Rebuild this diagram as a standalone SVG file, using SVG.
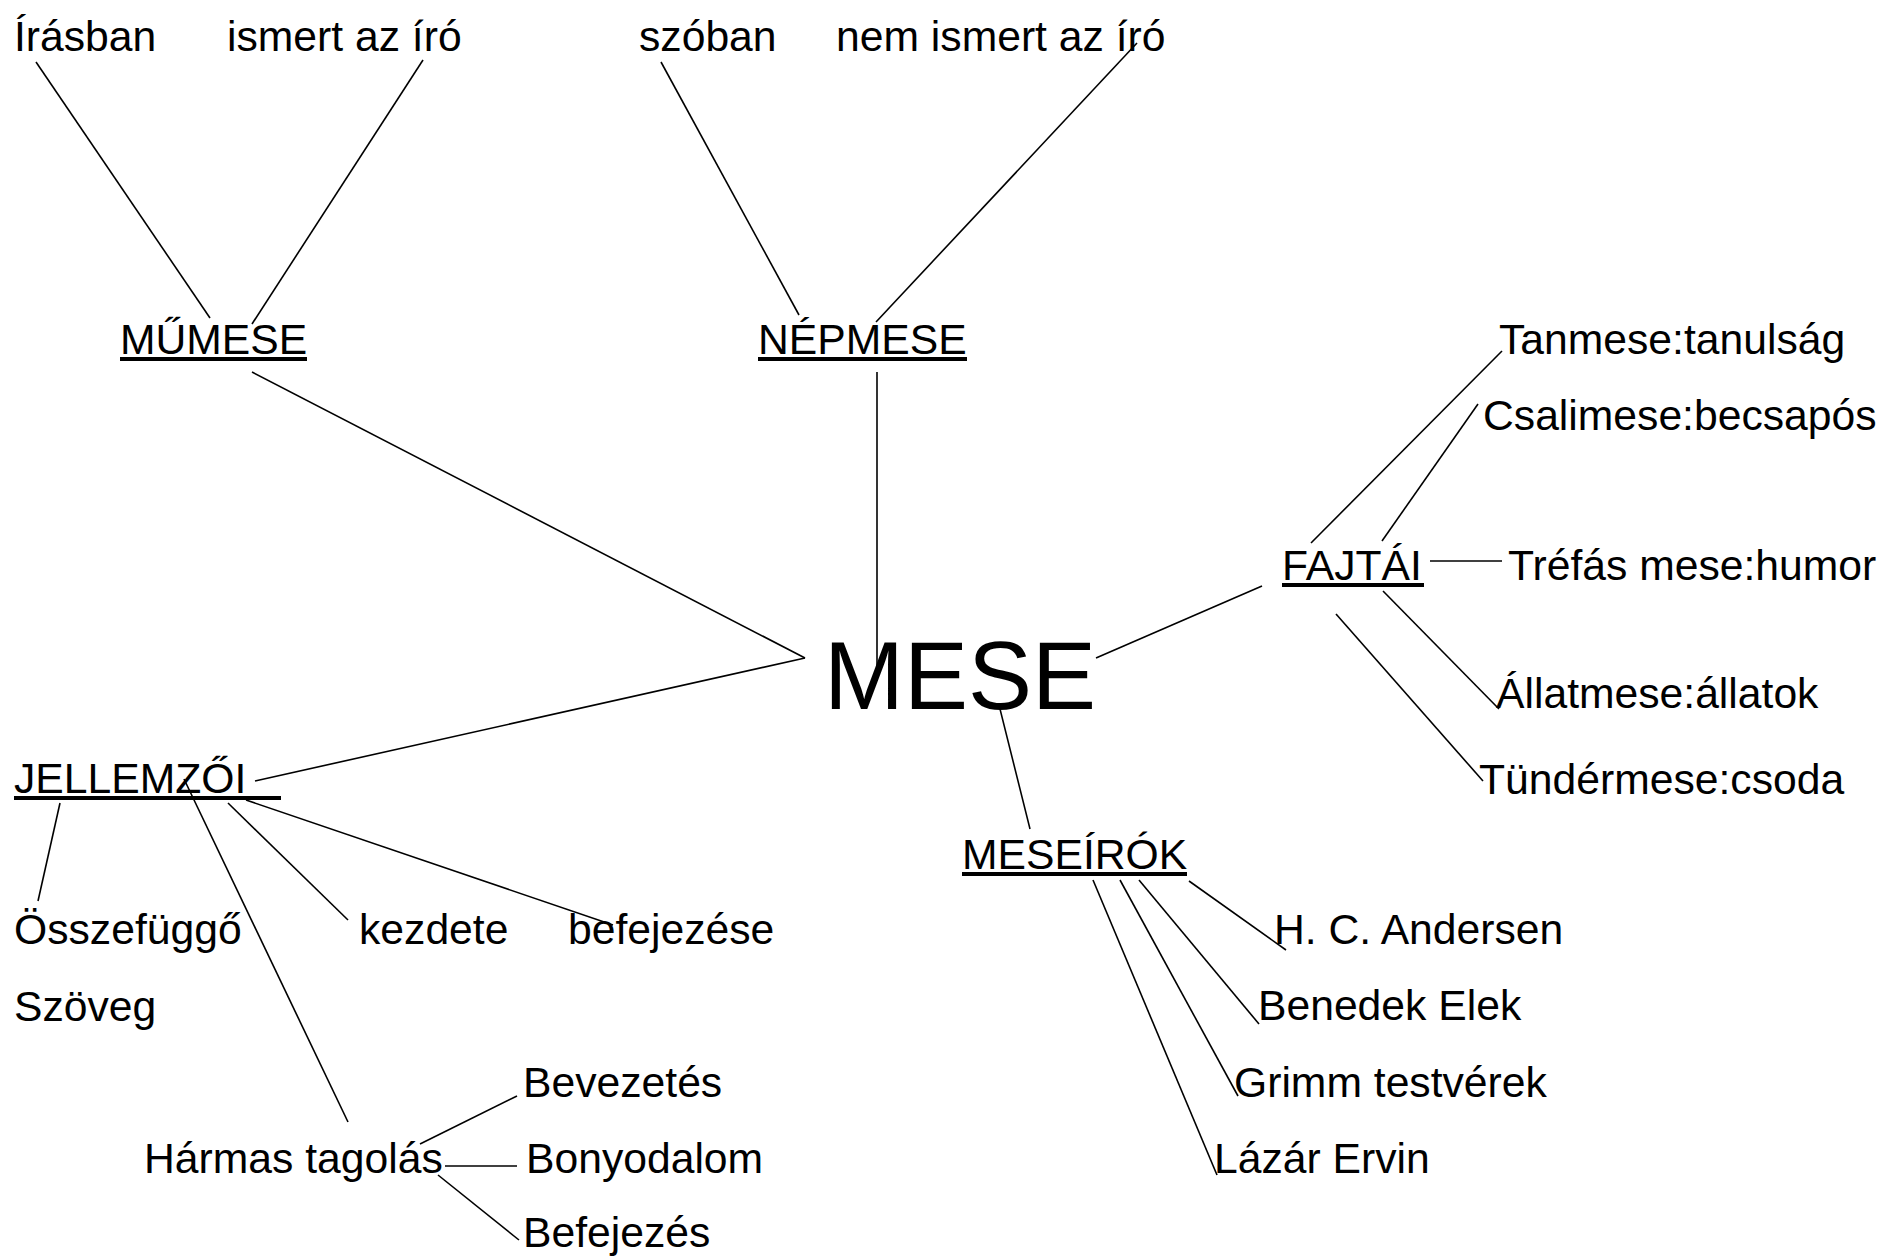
<svg xmlns="http://www.w3.org/2000/svg" width="1884" height="1257" viewBox="0 0 1884 1257">
<style>
text{font-family:"Liberation Sans",Arial,sans-serif;font-size:42.67px;fill:#000}
.big{font-size:96px}
.ul{fill:#000}
#connectors line{stroke:#000;stroke-width:1.6}
</style>
<rect width="1884" height="1257" fill="#fff"/>
<g id="connectors">
<line x1="36" y1="62" x2="210" y2="318"/>
<line x1="423" y1="60" x2="252" y2="324"/>
<line x1="661" y1="62" x2="799" y2="315"/>
<line x1="1137" y1="43" x2="876" y2="322"/>
<line x1="877" y1="372" x2="877" y2="681"/>
<line x1="252" y1="372" x2="805" y2="658"/>
<line x1="805" y1="658" x2="255" y2="781"/>
<line x1="1096" y1="658" x2="1262" y2="586"/>
<line x1="1311" y1="543" x2="1502" y2="351"/>
<line x1="1382" y1="541" x2="1478" y2="404"/>
<line x1="1430" y1="561" x2="1502" y2="561"/>
<line x1="1383" y1="591" x2="1499" y2="709"/>
<line x1="1336" y1="614" x2="1483" y2="781"/>
<line x1="1000" y1="709" x2="1030" y2="829"/>
<line x1="1189" y1="881" x2="1286" y2="950"/>
<line x1="1139" y1="880" x2="1259" y2="1024"/>
<line x1="1120" y1="880" x2="1238" y2="1096"/>
<line x1="1093" y1="880" x2="1217" y2="1175"/>
<line x1="60" y1="803" x2="38" y2="901"/>
<line x1="184" y1="779" x2="348" y2="1122"/>
<line x1="228" y1="803" x2="348" y2="920"/>
<line x1="246" y1="800" x2="613" y2="925"/>
<line x1="420" y1="1144" x2="517" y2="1096"/>
<line x1="445" y1="1166" x2="517" y2="1166"/>
<line x1="438" y1="1175" x2="519" y2="1240"/>
</g>
<g id="n-irasban"><text x="14" y="51">Írásban</text></g>
<g id="n-ismert"><text x="227" y="51">ismert az író</text></g>
<g id="n-szoban"><text x="639" y="51">szóban</text></g>
<g id="n-nemismert"><text x="836" y="51">nem ismert az író</text></g>
<g id="n-mumese"><text x="120" y="354">MŰMESE</text><rect class="ul" x="120" y="357" width="187" height="4"/></g>
<g id="n-nepmese"><text x="758" y="354">NÉPMESE</text><rect class="ul" x="758" y="357" width="209" height="4"/></g>
<g id="n-mese"><text class="big" x="824" y="709">MESE</text></g>
<g id="n-fajtai"><text x="1282" y="580">FAJTÁI</text><rect class="ul" x="1282" y="583" width="142" height="4"/></g>
<g id="n-tanmese"><text x="1499" y="354">Tanmese:tanulság</text></g>
<g id="n-csalimese"><text x="1483" y="430">Csalimese:becsapós</text></g>
<g id="n-trefas"><text x="1508" y="580">Tréfás mese:humor</text></g>
<g id="n-allatmese"><text x="1496" y="708">Állatmese:állatok</text></g>
<g id="n-tundermese"><text x="1479" y="794">Tündérmese:csoda</text></g>
<g id="n-jellemzoi"><text x="14" y="793">JELLEMZŐI</text><rect class="ul" x="14" y="796" width="267" height="4"/></g>
<g id="n-meseirok"><text x="962" y="869">MESEÍRÓK</text><rect class="ul" x="962" y="872" width="225" height="4"/></g>
<g id="n-osszefuggo"><text x="14" y="944">Összefüggő</text></g>
<g id="n-szoveg"><text x="14" y="1021">Szöveg</text></g>
<g id="n-kezdete"><text x="359" y="944">kezdete</text></g>
<g id="n-befejezese"><text x="568" y="944">befejezése</text></g>
<g id="n-harmas"><text x="144" y="1173">Hármas tagolás</text></g>
<g id="n-bevezetes"><text x="523" y="1097">Bevezetés</text></g>
<g id="n-bonyodalom"><text x="526" y="1173">Bonyodalom</text></g>
<g id="n-befejezes"><text x="523" y="1247">Befejezés</text></g>
<g id="n-andersen"><text x="1274" y="944">H. C. Andersen</text></g>
<g id="n-benedek"><text x="1258" y="1020">Benedek Elek</text></g>
<g id="n-grimm"><text x="1234" y="1097">Grimm testvérek</text></g>
<g id="n-lazar"><text x="1214" y="1173">Lázár Ervin</text></g>
</svg>
